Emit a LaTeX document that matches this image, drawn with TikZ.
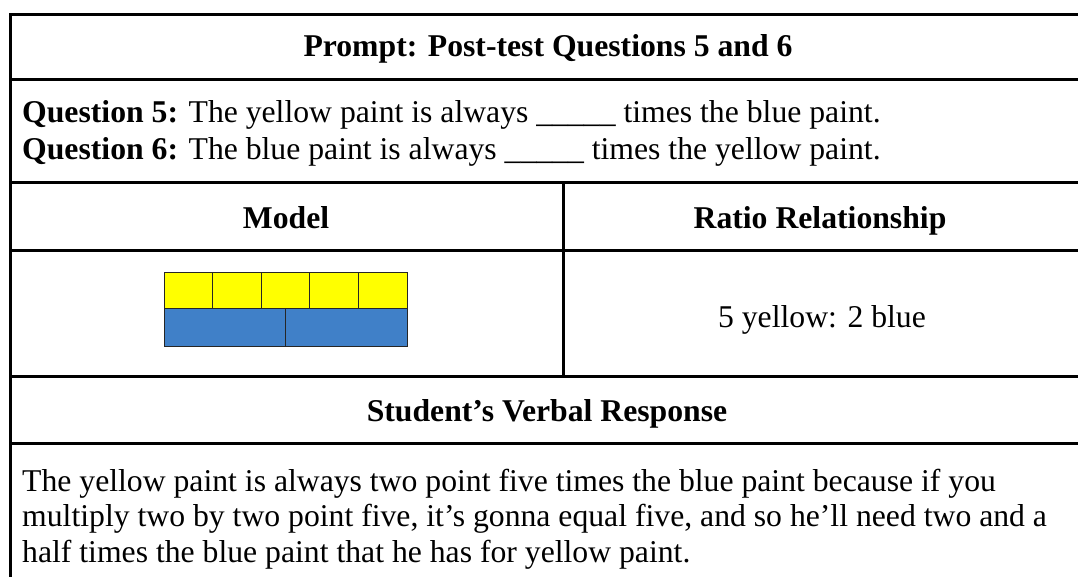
\documentclass[tikz,border=0pt]{standalone}
\usepackage{fontspec}
\setmainfont{Liberation Serif}
\definecolor{paintyellow}{RGB}{255,255,0}
\definecolor{paintblue}{RGB}{64,128,200}

\begin{document}
\begin{tikzpicture}[x=1pt,y=-1pt]
\tikzset{rule/.style = {line width=3pt, line join=miter},
  head/.style = {font=\fontsize{31.7}{36.5}\selectfont\bfseries, anchor=base, inner sep=0pt},
  body/.style = {font=\fontsize{31.7}{36.5}\selectfont, anchor=base west, inner sep=0pt},
  ycell/.style = {draw=black!85, line width=0.8pt, fill=paintyellow},
  bcell/.style = {draw=black!85, line width=0.8pt, fill=paintblue}}

\useasboundingbox (0,0) rectangle (1078,577);
\clip (0,0) rectangle (1078,577);

% grid of the table
\draw[rule] (10.5,580) -- (10.5,15) -- (1090,15);
\foreach \y in {80,183,251,376,443}
  \draw[rule] (10.5,\y) -- (1090,\y);
\draw[rule] (563,183) -- (563,376);

% headings
\node[head] (prompt) at (548,57) {Prompt: Post-test Questions 5 and 6};
\node[head] (model) at (286,229) {Model};
\node[head] (ratio) at (820,229) {Ratio Relationship};
\node[head] (student) at (547,421) {Student’s Verbal Response};

% questions
\node[body] (q5) at (22,123) {\textbf{Question 5:} The yellow paint is always \_\_\_\_\_ times the blue paint.};
\node[body] (q6) at (22,160) {\textbf{Question 6:} The blue paint is always \_\_\_\_\_ times the yellow paint.};

% bar model
\foreach \i in {0,...,4}
  \draw[ycell] ({164+48.6*\i},272) rectangle ++(48.6,36);
\draw[bcell] (164,308) rectangle (285.5,346);
\draw[bcell] (285.5,308) rectangle (407,346);

\node[body, anchor=base] (ratioval) at (822,327) {5 yellow: 2 blue};

% response
\node[body] (resp1) at (22,491) {The yellow paint is always two point five times the blue paint because if you};
\node[body] (resp2) at (22,526.5) {multiply two by two point five, it’s gonna equal five, and so he’ll need two and a};
\node[body] (resp3) at (22,562) {half times the blue paint that he has for yellow paint.};
\end{tikzpicture}
\end{document}
